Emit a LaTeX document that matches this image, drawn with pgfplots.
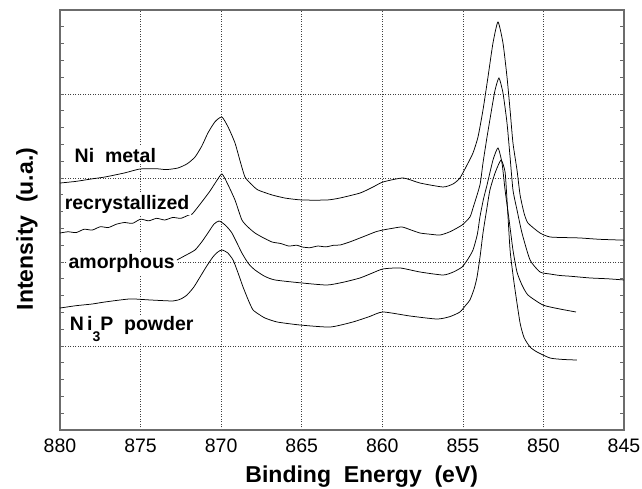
\documentclass[border=0pt]{standalone}
\usepackage{fontspec}
\setmainfont{Liberation Sans}
\usepackage{pgfplots}
\pgfplotsset{compat=1.18}
\pgfplotsset{spec/.style={black, line width=0.75pt, mark=none, smooth, tension=0.35}}
\begin{document}
\begin{tikzpicture}[x=1pt,y=1pt]
\begin{axis}[
  at={(60pt,59pt)}, anchor=south west,
  scale only axis, width=564pt, height=420pt,
  x dir=reverse,
  xmin=845, xmax=880, ymin=0, ymax=5,
  xtick={845,850,...,880},
  ytick={0,1,...,5}, yticklabels={},
  minor y tick num=4,
  ytick pos=both,
  xtick style={draw=none},
  major tick length=4pt, minor tick length=4pt,
  y tick style={gray!80!black, line width=0.8pt},
  tick align=inside,
  grid=major,
  major grid style={black!75, line width=0.6pt, dash pattern=on 1pt off 1.5pt},
  axis line style={gray!85!black, line width=1.3pt},
  /pgf/number format/assume math mode=true,
  ticklabel style={font=\fontsize{19.5}{19.5}\selectfont},
  xticklabel style={yshift=-5pt},
  xlabel={Binding\ \ Energy\ \ (eV)},
  ylabel={Intensity\ \ (u.a.)},
  label style={font=\fontsize{23}{23}\selectfont\bfseries},
  xlabel style={at={(axis description cs:0.535,-0.126)}, anchor=base},
  ylabel style={at={(axis description cs:-0.0479,0.4786)}, anchor=base},
]
% Ni metal
\addplot[spec] coordinates {
(880.00,2.940)(879.0,2.96)(878.0,2.99)(877.21,3.012)(876.0,3.06)(875.04,3.107)
(874.0,3.11)(873.4,3.10)(872.68,3.119)(872.1,3.17)(871.62,3.250)(871.2,3.38)
(870.82,3.536)(870.38,3.67)(869.95,3.726)(869.55,3.60)(869.14,3.417)(868.82,3.20)
(868.52,3.012)(868.1,2.92)(867.71,2.857)(866.84,2.798)(866.0,2.76)(864.98,2.738)
(863.43,2.738)(862.62,2.762)(861.38,2.821)(860.6,2.89)(859.96,2.952)(858.71,3.000)
(857.66,2.940)(856.23,2.893)(855.6,2.93)(855.18,3.000)(854.74,3.155)(854.37,3.298)
(854.06,3.488)(853.75,3.810)(853.44,4.202)(853.13,4.607)(852.82,4.857)(852.51,4.607)
(852.26,4.202)(852.07,3.810)(851.89,3.417)(851.64,3.095)(851.45,2.80)(851.2,2.58)
(850.96,2.464)(850.21,2.345)(849.59,2.298)(848.5,2.29)(847.73,2.286)(846.5,2.27)
(845.00,2.26)
};
% recrystallized
\addplot[spec] coordinates {
(880.0,2.345)(879.5,2.36)(879.0,2.35)(878.5,2.39)(878.0,2.38)(877.5,2.42)(877.0,2.41)
(876.5,2.45)(876.0,2.47)(875.5,2.46)(875.0,2.51)(874.5,2.49)(874.0,2.52)(873.5,2.50)
(873.0,2.53)(872.5,2.52)(872.0,2.56)(871.8,2.57)(871.44,2.655)(871.1,2.74)(870.69,2.845)
(870.3,2.96)(869.95,3.048)(869.6,2.93)(869.14,2.738)(868.71,2.50)(868.3,2.41)(867.90,2.345)
(867.4,2.29)(866.84,2.238)(866.3,2.22)(865.8,2.19)(865.3,2.20)(864.98,2.179)(864.5,2.17)
(864.0,2.19)(863.5,2.18)(863.0,2.20)(862.62,2.202)(862.0,2.24)(861.38,2.286)(860.8,2.33)
(860.4,2.36)(859.96,2.381)(859.4,2.40)(858.78,2.417)(858.2,2.38)(857.66,2.345)(857.0,2.33)
(856.42,2.321)(855.8,2.36)(855.05,2.44)(854.56,2.536)(854.37,2.643)(853.94,2.917)
(853.75,3.179)(853.50,3.488)(853.19,3.845)(853.0,4.048)(852.76,4.190)(852.51,4.012)
(852.26,3.655)(852.07,3.250)(851.89,2.857)(851.64,2.62)(851.33,2.345)(850.83,2.024)
(850.21,1.881)(849.59,1.857)(849.0,1.84)(848.3,1.83)(847.11,1.810)(846.0,1.80)(845.0,1.786)
};
% amorphous
\addplot[spec] coordinates {
(872.74,2.024)(872.2,2.08)(871.62,2.143)(871.2,2.24)(870.82,2.345)(870.45,2.45)
(870.13,2.488)(869.75,2.44)(869.33,2.345)(868.71,2.107)(868.3,1.98)(867.90,1.905)
(867.3,1.83)(866.66,1.786)(864.98,1.750)(863.43,1.726)(862.4,1.76)(861.38,1.810)
(860.6,1.87)(859.96,1.917)(858.90,1.929)(857.66,1.881)(856.23,1.845)(855.6,1.88)
(855.05,1.940)(854.7,2.03)(854.37,2.143)(854.1,2.33)(853.94,2.536)(853.72,2.75)
(853.50,2.917)(853.13,3.214)(852.82,3.357)(852.57,3.179)(852.38,2.857)(852.13,2.50)
(851.89,2.143)(851.64,1.88)(851.33,1.726)(850.96,1.607)(850.03,1.488)(848.97,1.440)
(847.98,1.405)
};
% Ni3P powder
\addplot[spec] coordinates {
(880,1.452)(879,1.48)(878,1.50)(877.21,1.524)(875.66,1.560)(874.41,1.548)(872.99,1.536)
(872.5,1.56)(872.12,1.607)(871.7,1.70)(871.31,1.821)(870.9,1.95)(870.51,2.060)(870.2,2.12)
(869.95,2.143)(869.6,2.11)(869.26,2.024)(868.95,1.87)(868.64,1.702)(868.3,1.54)(868.02,1.429)
(867.6,1.37)(867.28,1.333)(866.53,1.286)(865.11,1.250)(863.24,1.226)(861.82,1.286)(860.8,1.35)
(859.96,1.405)(858.28,1.357)(856.60,1.321)(855.8,1.35)(855.18,1.405)(854.8,1.49)(854.56,1.548)
(854.3,1.68)(854.12,1.821)(853.92,2.08)(853.75,2.345)(853.5,2.65)(853.32,2.857)(853.00,3.060)
(852.63,3.214)(852.38,3.071)(852.26,2.738)(852.07,2.143)(851.89,1.85)(851.76,1.667)
(851.45,1.274)(851.2,1.10)(850.83,0.988)(850.40,0.929)(849.59,0.857)(848.8,0.84)(847.92,0.833)
};
\begin{scope}[every node/.style={fill=white, inner sep=1.5pt, anchor=base west,
    font=\fontsize{19.5}{19.5}\selectfont\bfseries}]
\node at (axis cs:879.19,3.19) {Ni\ \ metal};
\node at (axis cs:879.81,2.63) {recrystallized};
\node at (axis cs:879.57,1.917) {amorphous};
\node at (axis cs:879.50,1.179) {N\,i\raisebox{-0.55em}{\fontsize{14}{14}\selectfont 3}P\ \ powder};
\end{scope}
\end{axis}
\pgfresetboundingbox
\path[use as bounding box] (0,0) rectangle (642,489);
\end{tikzpicture}
\end{document}
